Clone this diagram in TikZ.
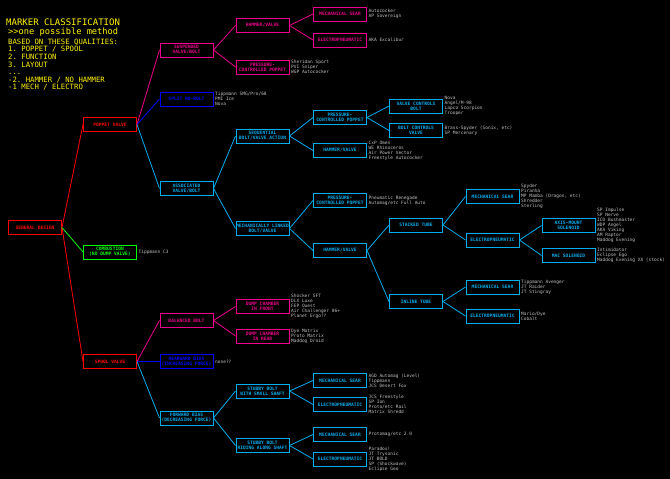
\documentclass[tikz,border=0pt]{standalone}
\usepackage{fontspec}
\setmonofont{DejaVu Sans Mono}
\usetikzlibrary{positioning}
\definecolor{notegray}{RGB}{192,192,192}

\begin{document}
\begin{tikzpicture}[x=1pt, y=-1pt,
    box/.style={draw, line width=1pt, minimum width=53pt, minimum height=14pt,
      inner sep=0pt, align=center, font=\ttfamily\bfseries\fontsize{4.6}{5}\selectfont},
    rbox/.style={box, draw=red, text=red},
    gbox/.style={box, draw=green, text=green},
    mbox/.style={box, draw=magenta, text=magenta},
    bbox/.style={box, draw=blue, text=blue},
    cbox/.style={box, draw=cyan, text=cyan},
    note/.style={text=notegray, inner sep=0pt, align=left,
      font=\ttfamily\fontsize{4.5}{5}\selectfont},
    head/.style={text=yellow, inner sep=0pt, anchor=west,
      font=\ttfamily\fontsize{7.3}{7.5}\selectfont},
    link/.style={line width=0.8pt}]

    \useasboundingbox (0,0) rectangle (670,479);
    \fill[black] (0,0) rectangle (670,479);

    % heading
    \node[head, font=\ttfamily\fontsize{9}{9}\selectfont] (hTitle) at (6,22) {MARKER CLASSIFICATION};
    \node[head, font=\ttfamily\fontsize{8.7}{9}\selectfont] (hSub) at (8,32) {{>}{>}one possible method};
    \node[head] (hQ) at (8,42) {BASED ON THESE QUALITIES:};
    \node[head] (hQa) at (8,49.5) {1. POPPET / SPOOL};
    \node[head] (hQb) at (8,57) {2. FUNCTION};
    \node[head] (hQc) at (8,64.5) {3. LAYOUT};
    \node[head, anchor=base west] (hDots) at (8,74) {...};
    \node[head] (hQd) at (8,80) {-2. HAMMER / NO HAMMER};
    \node[head] (hQe) at (8,87.5) {-1 MECH / ELECTRO};

    % first split
    \node[rbox] (gen) at (35,227.5) {GENERAL DESIGN};
    \node[rbox] (pop) at (110,124.5) {POPPET VALVE};
    \node[gbox] (comb) at (110,252) {COMBUSTION\\(NO DUMP VALVE)};
    \node[rbox] (spool) at (110,361.5) {SPOOL VALVE};
    \node[note, right=1.5pt of comb] (combN) {Tippmann C3};

    % poppet valve
    \node[mbox] (susp) at (186.5,50) {SUSPENDED\\VALVE/BOLT};
    \node[bbox] (nobolt) at (186.5,99) {SPLIT NO-BOLT};
    \node[cbox] (assoc) at (186.5,188.5) {ASSOCIATED\\VALVE/BOLT};
    \node[note, right=1.5pt of nobolt] (noboltN) {Tippmann SMG/Pro/68\\PMI Ice\\Nova};

    \node[mbox] (hvM) at (262.5,25.5) {HAMMER/VALVE};
    \node[mbox] (pcpM) at (262.5,67) {PRESSURE-\\CONTROLLED POPPET};
    \node[note, right=1.5pt of pcpM] (pcpMN) {Sheridan Sport\\PVI Sniper\\WGP Autococker};
    \node[mbox] (searM) at (340,14) {MECHANICAL SEAR};
    \node[mbox] (epM) at (340,40) {ELECTROPNEUMATIC};
    \node[note, right=1.5pt of searM] (searMN) {Autococker\\AP Sovereign};
    \node[note, right=1.5pt of epM] (epMN) {AKA Excalibur};

    \node[cbox] (seq) at (262.5,136) {SEQUENTIAL\\BOLT/VALVE ACTION};
    \node[cbox] (mlink) at (262.5,228.5) {MECHANICALLY LINKED\\BOLT/VALVE};
    \node[cbox] (pcpA) at (340,117.5) {PRESSURE-\\CONTROLLED POPPET};
    \node[cbox] (hvA) at (340,150.5) {HAMMER/VALVE};
    \node[note, right=1.5pt of hvA] (hvAN) {CxP Omen\\WE Rhinoceros\\Air Power Vector\\Freestyle Autococker};
    \node[cbox] (vcb) at (416,106) {VALVE CONTROLS\\BOLT};
    \node[cbox] (bcv) at (416,130.5) {BOLT CONTROLS\\VALVE};
    \node[note, right=1.5pt of vcb] (vcbN) {Nova\\Angel/M-98\\Lapco Scorpion\\Trooper};
    \node[note, right=1.5pt of bcv] (bcvN) {Brass-Spyder (Sonix, etc)\\SP Mercenary};

    \node[cbox] (pcpB) at (340,200.5) {PRESSURE-\\CONTROLLED POPPET};
    \node[note, right=1.5pt of pcpB] (pcpBN) {Pneumatic Renegade\\Automag/etc Full Auto};
    \node[cbox] (hvB) at (340,250.5) {HAMMER/VALVE};
    \node[cbox] (stack) at (416,225) {STACKED TUBE};
    \node[cbox] (inl) at (416,301.5) {INLINE TUBE};
    \node[cbox] (searS) at (492.5,196.5) {MECHANICAL SEAR};
    \node[cbox] (epS) at (492.5,240) {ELECTROPNEUMATIC};
    \node[note, right=1.5pt of searS] (searSN) {Spyder\\Piranha\\MP Mamba (Dragon, etc)\\Shredder\\Sterling};
    \node[cbox] (axis) at (568.5,225.5) {AXIS-MOUNT\\SOLENOID};
    \node[cbox] (mac) at (568.5,255.5) {MAC SOLENOID};
    \node[note, right=1.5pt of axis] (axisN) {SP Impulse\\SP Nerve\\ICD Bushmaster\\WDP Angel\\AKA Viking\\AM Raptor\\Maddog Evening};
    \node[note, right=1.5pt of mac] (macN) {Intimidator\\Eclipse Ego\\Maddog Evening XX (stock)};
    \node[cbox] (searI) at (492.5,287) {MECHANICAL SEAR};
    \node[cbox] (epI) at (492.5,316) {ELECTROPNEUMATIC};
    \node[note, right=1.5pt of searI] (searIN) {Tippmann Avenger\\JT Raider\\JT Stingray};
    \node[note, right=1.5pt of epI] (epIN) {Mario/Dye\\Cobalt};

    % spool valve
    \node[mbox] (bal) at (186.5,320.5) {BALANCED BOLT};
    \node[bbox] (rear) at (186.5,361.5) {REARWARD BIAS\\(INCREASING FORCE)};
    \node[cbox] (fwd) at (186.5,418) {FORWARD BIAS\\(DECREASING FORCE)};
    \node[note, right=1.5pt of rear] (rearN) {none??};
    \node[mbox] (dcf) at (262.5,306.5) {DUMP CHAMBER\\IN FRONT};
    \node[mbox] (dcr) at (262.5,336) {DUMP CHAMBER\\IN REAR};
    \node[note, right=1.5pt of dcf] (dcfN) {Shocker SFT\\DLX Luxe\\FEP Quest\\Air Challenger 06+\\Planet Ergo??};
    \node[note, right=1.5pt of dcr] (dcrN) {Dye Matrix\\Proto Matrix\\Maddog Droid};

    \node[cbox] (stubA) at (262.5,391) {STUBBY BOLT\\WITH SMALL SHAFT};
    \node[cbox] (stubB) at (262.5,445.5) {STUBBY BOLT\\RIDING ALONG SHAFT};
    \node[cbox] (searFA) at (340,380.5) {MECHANICAL SEAR};
    \node[cbox] (epFA) at (340,404.5) {ELECTROPNEUMATIC};
    \node[cbox] (searFB) at (340,434.5) {MECHANICAL SEAR};
    \node[cbox] (epFB) at (340,459) {ELECTROPNEUMATIC};
    \node[note, right=1.5pt of searFA] (searFAN) {AGD Automag (Level)\\Tippmann\\JCS Desert Fox};
    \node[note, right=1.5pt of epFA] (epFAN) {JCS Freestyle\\SP Ion\\Proto/etc Rail\\Matrix Shredd};
    \node[note, right=1.5pt of searFB] (searFBN) {Protomag/etc 2.0};
    \node[note, right=1.5pt of epFB] (epFBN) {Paradox!\\JT Trysonic\\JT BOLD\\SP (Shockwave)\\Eclipse Geo};

    % connectors
    \draw[link, red] (gen.east) -- (pop.west);
    \draw[link, red] (gen.east) -- (spool.west);
    \draw[link, green] (gen.east) -- (comb.west);

    \draw[link, magenta] (pop.east) -- (susp.west);
    \draw[link, blue] (pop.east) -- (nobolt.west);
    \draw[link, cyan] (pop.east) -- (assoc.west);
    \draw[link, magenta] (susp.east) -- (hvM.west);
    \draw[link, magenta] (susp.east) -- (pcpM.west);
    \draw[link, magenta] (hvM.east) -- (searM.west);
    \draw[link, magenta] (hvM.east) -- (epM.west);

    \draw[link, cyan] (assoc.east) -- (seq.west);
    \draw[link, cyan] (assoc.east) -- (mlink.west);
    \draw[link, cyan] (seq.east) -- (pcpA.west);
    \draw[link, cyan] (seq.east) -- (hvA.west);
    \draw[link, cyan] (pcpA.east) -- (vcb.west);
    \draw[link, cyan] (pcpA.east) -- (bcv.west);
    \draw[link, cyan] (mlink.east) -- (pcpB.west);
    \draw[link, cyan] (mlink.east) -- (hvB.west);
    \draw[link, cyan] (hvB.east) -- (stack.west);
    \draw[link, cyan] (hvB.east) -- (inl.west);
    \draw[link, cyan] (stack.east) -- (searS.west);
    \draw[link, cyan] (stack.east) -- (epS.west);
    \draw[link, cyan] (epS.east) -- (axis.west);
    \draw[link, cyan] (epS.east) -- (mac.west);
    \draw[link, cyan] (inl.east) -- (searI.west);
    \draw[link, cyan] (inl.east) -- (epI.west);

    \draw[link, magenta] (spool.east) -- (bal.west);
    \draw[link, blue] (spool.east) -- (rear.west);
    \draw[link, cyan] (spool.east) -- (fwd.west);
    \draw[link, magenta] (bal.east) -- (dcf.west);
    \draw[link, magenta] (bal.east) -- (dcr.west);
    \draw[link, cyan] (fwd.east) -- (stubA.west);
    \draw[link, cyan] (fwd.east) -- (stubB.west);
    \draw[link, cyan] (stubA.east) -- (searFA.west);
    \draw[link, cyan] (stubA.east) -- (epFA.west);
    \draw[link, cyan] (stubB.east) -- (searFB.west);
    \draw[link, cyan] (stubB.east) -- (epFB.west);
\end{tikzpicture}
\end{document}
